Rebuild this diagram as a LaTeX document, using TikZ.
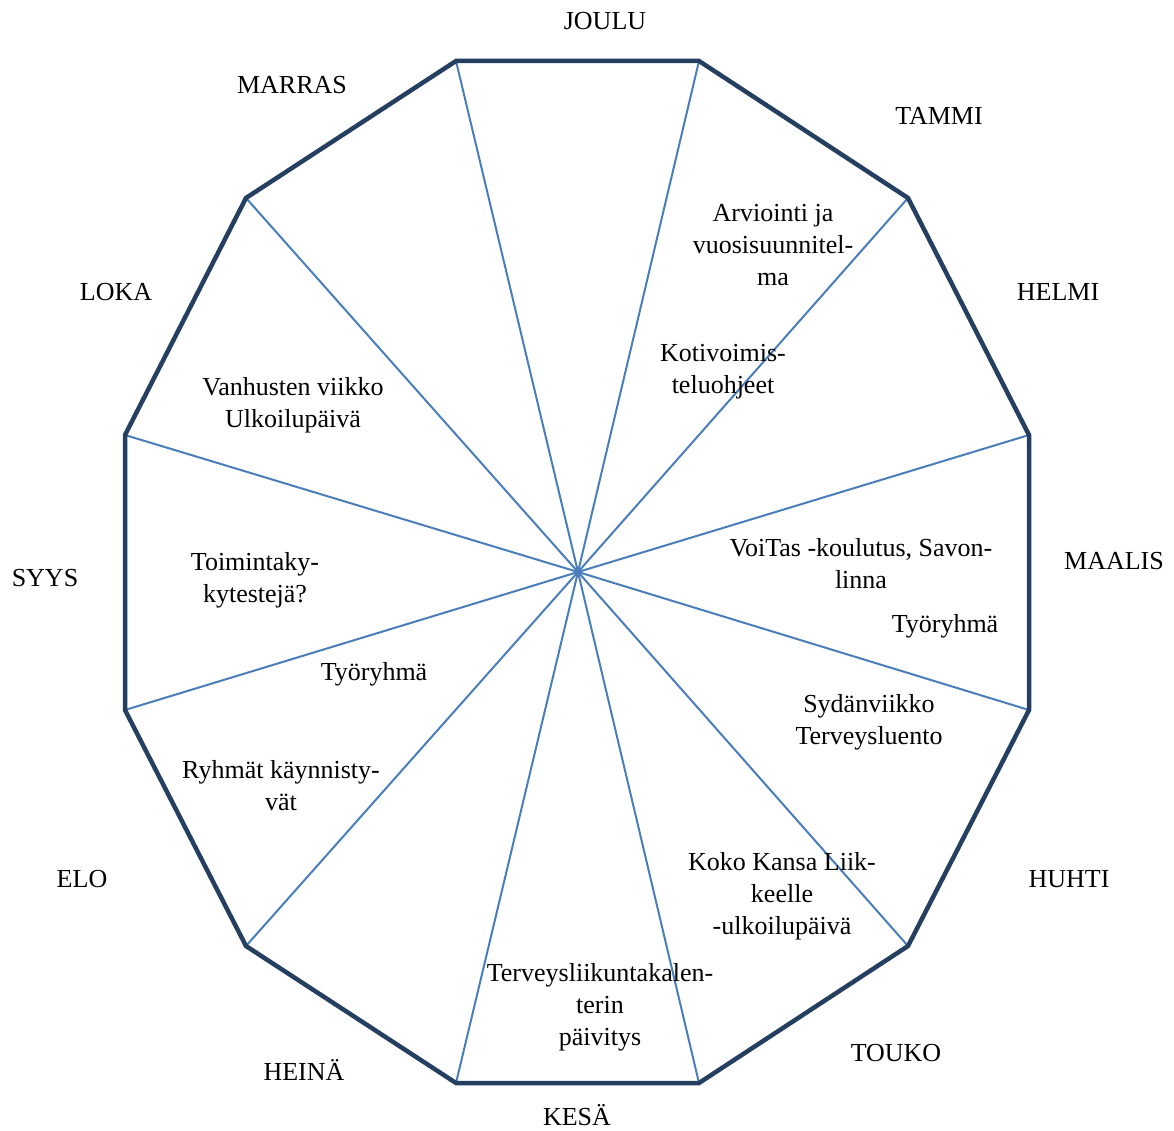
\documentclass[tikz,border=0pt]{standalone}
\usepackage{fontspec}
\setmainfont{Liberation Serif}
\definecolor{rim}{HTML}{243F60}
\definecolor{spoke}{HTML}{4A7EBB}
\begin{document}
\begin{tikzpicture}[x=1pt,y=-1pt,
  lbl/.style={font=\fontsize{26}{32}\selectfont, inner sep=0pt, align=center},
  spokeline/.style={draw=spoke, line width=2pt},
  rimline/.style={draw=rim, line width=4.5pt, line join=miter}]
\useasboundingbox (0,0) rectangle (1174,1131);
\coordinate (c) at (578,572);
\coordinate (v1) at (456,61);
\coordinate (v2) at (699,61);
\coordinate (v3) at (908,198);
\coordinate (v4) at (1029,435);
\coordinate (v5) at (1029,710);
\coordinate (v6) at (908,946);
\coordinate (v7) at (699,1083);
\coordinate (v8) at (456,1083);
\coordinate (v9) at (246,946);
\coordinate (v10) at (125,710);
\coordinate (v11) at (125,435);
\coordinate (v12) at (246,198);
\foreach \i in {1,...,12} \draw[spokeline] (c) -- (v\i);
\draw[rimline] (v1) -- (v2) -- (v3) -- (v4) -- (v5) -- (v6) -- (v7) -- (v8) -- (v9) -- (v10) -- (v11) -- (v12) -- cycle;
% month labels
\node[lbl] (joulu) at (605,21) {JOULU};
\node[lbl] (tammi) at (939,116) {TAMMI};
\node[lbl] (helmi) at (1058,292) {HELMI};
\node[lbl] (maalis) at (1114,561) {MAALIS};
\node[lbl] (huhti) at (1069,879) {HUHTI};
\node[lbl] (touko) at (896,1053) {TOUKO};
\node[lbl] (kesa) at (577,1115) {KESÄ};
\node[lbl] (heina) at (304,1070) {HEINÄ};
\node[lbl] (elo) at (82,879) {ELO};
\node[lbl] (syys) at (45,578) {SYYS};
\node[lbl] (loka) at (116,292) {LOKA};
\node[lbl] (marras) at (292,85) {MARRAS};
% inner texts
\node[lbl] (arv) at (773,245) {Arviointi ja\\vuosisuunnitel-\\ma};
\node[lbl] (koti) at (723,372) {Kotivoimis-\\teluohjeet};
\node[lbl] (voitas) at (861,564) {VoiTas -koulutus, Savon-\\linna};
\node[lbl] (tyo1) at (945,626) {Työryhmä};
\node[lbl] (syd) at (869,722) {Sydänviikko\\Terveysluento};
\node[lbl] (koko) at (782,896) {Koko Kansa Liik-\\keelle\\-ulkoilupäivä};
\node[lbl] (terv) at (600,1007) {Terveysliikuntakalen-\\terin\\päivitys};
\node[lbl] (ryh) at (281,786) {Ryhmät käynnisty-\\vät};
\node[lbl] (tyo2) at (374,674) {Työryhmä};
\node[lbl] (toim) at (255,580) {Toimintaky-\\kytestejä?};
\node[lbl] (vanh) at (293,405) {Vanhusten viikko\\Ulkoilupäivä};
\end{tikzpicture}
\end{document}
